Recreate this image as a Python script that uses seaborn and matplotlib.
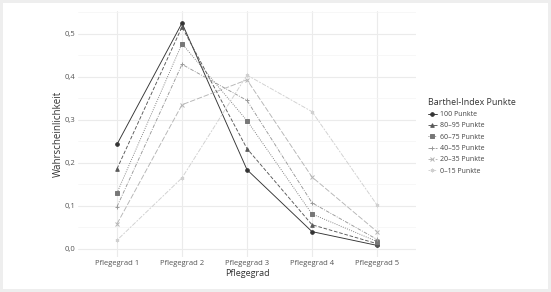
import matplotlib
matplotlib.use("Agg")
import matplotlib.pyplot as plt
import seaborn as sns
import pandas as pd
from matplotlib.patches import Rectangle
from matplotlib.ticker import MultipleLocator, FuncFormatter

categories = ["Pflegegrad 1", "Pflegegrad 2", "Pflegegrad 3", "Pflegegrad 4", "Pflegegrad 5"]
groups = ["100 Punkte", "80–95 Punkte", "60–75 Punkte", "40–55 Punkte", "20–35 Punkte", "0–15 Punkte"]
p_100 = [0.243, 0.525, 0.184, 0.040, 0.008]
p_80_95 = [0.186, 0.516, 0.233, 0.056, 0.012]
p_60_75 = [0.130, 0.477, 0.298, 0.081, 0.017]
p_40_55 = [0.098, 0.429, 0.345, 0.107, 0.022]
p_20_35 = [0.058, 0.335, 0.393, 0.167, 0.040]
p_0_15 = [0.020, 0.165, 0.404, 0.319, 0.102]
series = [p_100, p_80_95, p_60_75, p_40_55, p_20_35, p_0_15]

rows = []
for g, vals in zip(groups, series):
    for c, v in zip(categories, vals):
        rows.append({"Pflegegrad": c, "p": v, "Gruppe": g})
df = pd.DataFrame(rows)

sns.set_style("white")
plt.rcParams["font.family"] = ["Open Sans", "DejaVu Sans"]

fig = plt.figure(figsize=(5.51, 2.92), dpi=100)
fig.patch.set_facecolor("#eeeeee")
fig.patches.append(Rectangle((3 / 551, 3 / 292), 545 / 551, 286 / 292,
                             transform=fig.transFigure, facecolor="white",
                             edgecolor="none", zorder=-10))
ax = fig.add_axes([78 / 551, 1 - 257 / 292, (416 - 78) / 551, (257 - 11) / 292])
ax.set_zorder(5)
ax.set_facecolor("white")

palette = ["#333333", "#585858", "#777777", "#999999", "#b5b5b5", "#d0d0d0"]
markers = ["o", "^", "s", "+", "x", (6, 2, 0)]
linestyles = ["-", (0, (4, 2)), (0, (1, 1.5)), (0, (4, 1.5, 1, 1.5)), (0, (6, 2)), (0, (2, 1.5, 5, 1.5))]

for g, col, mk, ls in zip(groups, palette, markers, linestyles):
    sub = df[df["Gruppe"] == g]
    sns.lineplot(data=sub, x="Pflegegrad", y="p", color=col, marker=mk,
                 linestyle=ls, label=g, ax=ax, linewidth=0.65, markersize=2.6,
                 markeredgewidth=0.7, markeredgecolor=col, sort=False)

ax.set_xlim(-0.6, 4.6)
ax.set_ylim(-0.019, 0.553)
ax.yaxis.set_major_locator(MultipleLocator(0.1))
ax.yaxis.set_minor_locator(MultipleLocator(0.05))
ax.yaxis.set_major_formatter(FuncFormatter(lambda v, _: f"{v:.1f}".replace(".", ",")))
ax.grid(True, which="major", color="#ebebeb", linewidth=0.8)
ax.grid(True, which="minor", axis="y", color="#f4f4f4", linewidth=0.5)
ax.set_axisbelow(True)
for s in ax.spines.values():
    s.set_visible(False)
ax.tick_params(axis="both", which="both", length=0, labelsize=5.5, labelcolor="#555555")
ax.tick_params(axis="x", pad=2.5)
ax.tick_params(axis="y", pad=2)
ax.set_xlabel("Pflegegrad", fontsize=6.5, color="#333333", labelpad=1)
ax.set_ylabel("Wahrscheinlichkeit", fontsize=7, color="#333333", labelpad=0)

leg = ax.legend(title="Barthel-Index Punkte", loc="upper left",
                bbox_to_anchor=(423 / 551, 1 - 93 / 292), bbox_transform=fig.transFigure,
                frameon=False, fontsize=5.0, title_fontsize=6.4, handlelength=1.3,
                handletextpad=0.5, labelspacing=0.62, borderpad=0.2)
leg._legend_box.align = "left"
for t in leg.get_texts():
    t.set_color("#444444")
leg.get_title().set_color("#333333")

fig.savefig("out.png", dpi=100, facecolor=fig.get_facecolor())
